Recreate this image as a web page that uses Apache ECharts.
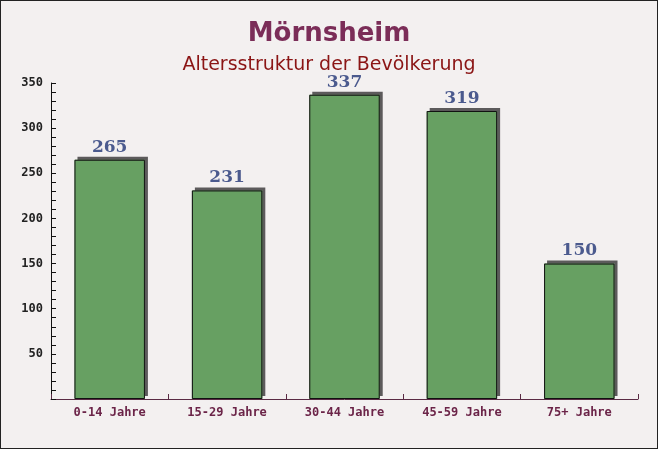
<!DOCTYPE html>
<html><head><meta charset="utf-8">
<script src="https://cdn.jsdelivr.net/npm/echarts@6/dist/echarts.min.js"></script>
<style>html,body{margin:0;padding:0;background:#f3f0f0}#c{width:656px;height:447px;border:1px solid #222;}</style>
</head><body><div id="c"></div>
<script>
var categories = ['0-14 Jahre','15-29 Jahre','30-44 Jahre','45-59 Jahre','75+ Jahre'];
var values = [265, 231, 337, 319, 150];
var titleText = 'Mörnsheim';
var subtitleText = 'Altersstruktur der Bevölkerung';

var chart = echarts.init(document.getElementById('c'));
chart.setOption({
  backgroundColor: '#f3f0f0',
  animation: false,
  title: {
    text: titleText, subtext: subtitleText, left: 'center', top: 15, itemGap: 9,
    textStyle: {fontFamily: 'DejaVu Sans', fontWeight: 'bold', fontSize: 26, color: '#7b2d58'},
    subtextStyle: {fontFamily: 'DejaVu Sans', fontSize: 19, color: '#8b1515'}
  },
  grid: {left: 50, right: 19, top: 82, bottom: 49},
  xAxis: {
    type: 'category', data: categories,
    axisLine: {lineStyle: {color: '#5a2a44', width: 1}},
    axisTick: {show: true, inside: true, length: 5, lineStyle: {color: '#5a2a44'}},
    axisLabel: {fontFamily: 'DejaVu Sans Mono', fontWeight: 'bold', fontSize: 12, color: '#6b2448', margin: 8}
  },
  yAxis: {
    type: 'value', min: 0, max: 350, interval: 50,
    axisLine: {show: true, lineStyle: {color: '#111', width: 1}},
    axisTick: {show: true, inside: true, length: 5, lineStyle: {color: '#111'}},
    minorTick: {show: true, splitNumber: 5, length: 5, lineStyle: {color: '#111'}},
    splitLine: {show: false},
    axisLabel: {fontFamily: 'DejaVu Sans Mono', fontWeight: 'bold', fontSize: 12, color: '#222', margin: 8,
      formatter: function(v){ return v === 0 ? '' : v; }}
  },
  series: [{
    type: 'bar', data: values, barWidth: '60%', z: 2,
    itemStyle: {color: '#67a062',
      shadowColor: '#5c5a5b', shadowOffsetX: 3, shadowOffsetY: -3, shadowBlur: 0}
  }, {
    type: 'bar', data: values, barWidth: '60%', barGap: '-100%', z: 3,
    itemStyle: {color: 'rgba(0,0,0,0)', borderColor: '#111', borderWidth: 1},
    label: {show: true, position: 'top', distance: 4,
      fontFamily: 'DejaVu Serif', fontWeight: 'bold', fontSize: 17, color: '#4b5a8e'}
  }]
});
</script></body></html>
